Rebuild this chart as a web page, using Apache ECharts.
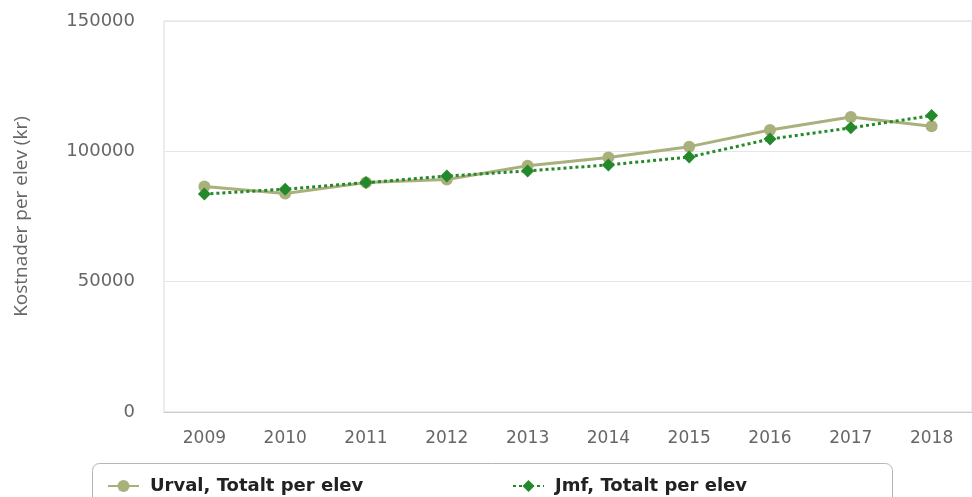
<!DOCTYPE html>
<html><head><meta charset="utf-8">
<script src="https://cdn.jsdelivr.net/npm/echarts@6/dist/echarts.min.js"></script>
<style>html,body{margin:0;padding:0;background:#fff}#c{width:972px;height:497px}</style>
</head><body><div id="c"></div>
<script>
const years = ['2009','2010','2011','2012','2013','2014','2015','2016','2017','2018'];
const urval = [86500, 83800, 88000, 89200, 94500, 97600, 101800, 108200, 113200, 109600];
const jmf = [83600, 85500, 88000, 90500, 92500, 94800, 97800, 104700, 109000, 113700];
const yTicks = [0, 50000, 100000, 150000];
const yTitle = 'Kostnader per elev (kr)';
const nameU = 'Urval, Totalt per elev';
const nameJ = 'Jmf, Totalt per elev';

const chart = echarts.init(document.getElementById('c'));
const legendText = {fontFamily:'DejaVu Sans', fontWeight:'bold', fontSize:18, color:'#222', padding:[0,0,0,6]};
chart.setOption({
  animation:false,
  grid:{left:164, top:21, width:819, height:391, show:true, borderColor:'#d9d9d9', borderWidth:1, containLabel:false},
  graphic:[{type:'rect', shape:{x:92.5, y:463.5, width:800, height:60, r:7}, style:{fill:'#fff', stroke:'#b5b5b5', lineWidth:1}, z:-1}],
  legend:[
    {data:[nameU], left:107, top:477, itemWidth:31, itemHeight:15, textStyle:legendText, padding:0},
    {data:[nameJ], left:512, top:477, itemWidth:31, itemHeight:15, textStyle:legendText, padding:0}
  ],
  xAxis:{type:'category', data:years, boundaryGap:true,
    axisLine:{show:true, lineStyle:{color:'#ccc'}}, axisTick:{show:false},
    axisLabel:{fontFamily:'DejaVu Sans', fontSize:17, color:'#666', margin:18}},
  yAxis:{type:'value', min:0, max:150000, interval:50000,
    name:yTitle, nameLocation:'middle', nameGap:133,
    nameTextStyle:{fontFamily:'Open Sans', fontSize:19, color:'#666'},
    axisLine:{show:false}, axisTick:{show:false},
    splitLine:{lineStyle:{color:'#e6e6e6'}},
    axisLabel:{fontFamily:'DejaVu Sans', fontSize:18, color:'#666', margin:29, padding:[4,0,0,0],
      formatter:v => yTicks.includes(v) ? String(v) : ''}},
  series:[
    {name:nameU, type:'line', data:urval, symbol:'circle', symbolSize:12,
      itemStyle:{color:'#aab07c'}, lineStyle:{color:'#aab07c', width:3}, z:2},
    {name:nameJ, type:'line', data:jmf, symbol:'diamond', symbolSize:13,
      itemStyle:{color:'#23892a'}, lineStyle:{color:'#23892a', width:3, type:[3,3]}, z:3}
  ]
});
</script></body></html>
